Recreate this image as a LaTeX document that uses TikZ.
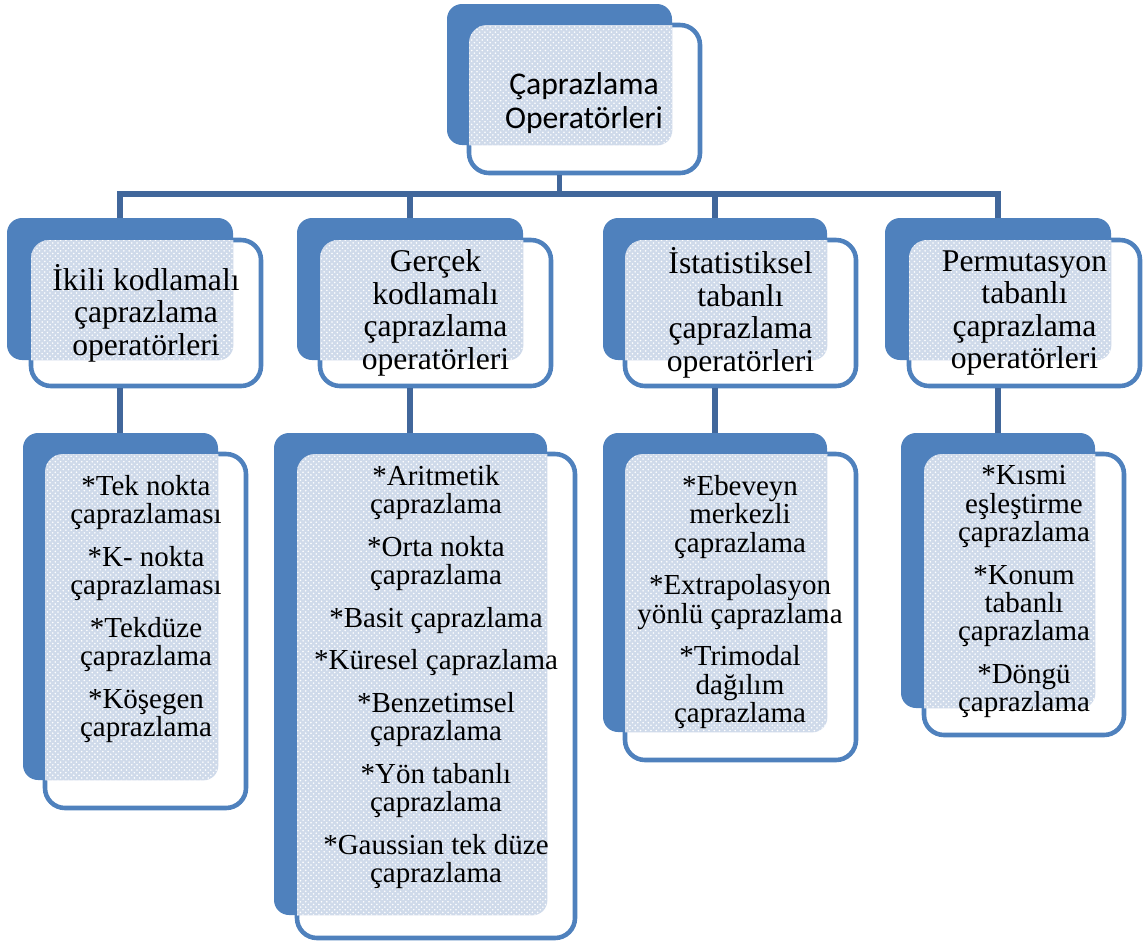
\documentclass[tikz,border=0pt]{standalone}
\usepackage{fontspec}
\setmainfont{Liberation Serif}
\newfontfamily\calibrifont{Carlito}
\usetikzlibrary{fit,patterns}
\definecolor{boxblue}{HTML}{4F81BD}
\definecolor{linkblue}{HTML}{41679B}
\definecolor{dotfill}{HTML}{CFDAEA}
\tikzstyle{backbox} = [rectangle,fill=boxblue,rounded corners=0.3cm,inner sep=0pt]
\tikzstyle{frontbox} = [rectangle,fill=white,draw=boxblue,line width=2.6pt,rounded corners=0.4cm,inner sep=0pt]
\tikzstyle{speckle} = [preaction={fill=dotfill},pattern=crosshatch dots,pattern color=white]
\tikzstyle{linkline} = [draw=linkblue,line width=3pt]
\tikzstyle{headtext} = [font=\calibrifont\fontsize{18}{19}\selectfont,align=center,inner sep=0pt]
\tikzstyle{kindtext} = [font=\fontsize{18}{18.5}\selectfont,align=center,inner sep=0pt]
\tikzstyle{listtext} = [font=\fontsize{16.5}{16.2}\selectfont,align=center,inner sep=0pt,anchor=north]

\begin{document}
\begin{tikzpicture}[x=0.02cm,y=-0.02cm]
\useasboundingbox (0,0) rectangle (1147,944);

% back boxes
\node[backbox,fit={(447,4) (672,145)}] (top-b) {};
\node[backbox,fit={(7,218) (233,360)}] (k1-b) {};
\node[backbox,fit={(297,218) (523,360)}] (k2-b) {};
\node[backbox,fit={(603,218) (827,360)}] (k3-b) {};
\node[backbox,fit={(885,218) (1111,360)}] (k4-b) {};
\node[backbox,fit={(23,433) (218,780)}] (l1-b) {};
\node[backbox,fit={(274,433) (547,915)}] (l2-b) {};
\node[backbox,fit={(603,433) (827,732)}] (l3-b) {};
\node[backbox,fit={(901,433) (1095,708)}] (l4-b) {};

% front boxes
\node[frontbox,fit={(469,25) (700,173)}] (top-f) {};
\node[frontbox,fit={(31,240) (261,386)}] (k1-f) {};
\node[frontbox,fit={(320,240) (551,386)}] (k2-f) {};
\node[frontbox,fit={(625,240) (856,386)}] (k3-f) {};
\node[frontbox,fit={(909,240) (1140,386)}] (k4-f) {};
\node[frontbox,fit={(45,454) (246,808)}] (l1-f) {};
\node[frontbox,fit={(297,454) (575,938)}] (l2-f) {};
\node[frontbox,fit={(625,454) (856,760)}] (l3-f) {};
\node[frontbox,fit={(924,454) (1124,735)}] (l4-f) {};

% dotted overlap
\foreach \n in {top,k1,k2,k3,k4,l1,l2,l3,l4}{
  \begin{scope}
    \clip[rounded corners=0.3cm] (\n-b.south west) rectangle (\n-b.north east);
    \fill[speckle,rounded corners=0.36cm] ([shift={(1.3pt,1.3pt)}]\n-f.south west) rectangle ([shift={(-1.3pt,-1.3pt)}]\n-f.north east);
  \end{scope}
}

% connectors
\coordinate (bus) at (0,194);
\foreach \i in {1,...,4}{
  \draw[linkline] (top-b |- top-f.south) |- (bus -| k\i-b) -- (k\i-b.north);
  \draw[linkline] (k\i-b |- k\i-f.south) -- (k\i-b |- l\i-b.north);
}

% texts
\node[headtext] (top-t) at (584,103) {Çaprazlama\\Operatörleri};
\node[kindtext] (k1-t) at (k1-f) {İkili kodlamalı\\çaprazlama\\operatörleri};
\node[kindtext] (k2-t) at (k2-f) {Gerçek\\kodlamalı\\çaprazlama\\operatörleri};
\node[kindtext] (k3-t) at (k3-f) {İstatistiksel\\tabanlı\\çaprazlama\\operatörleri};
\node[kindtext] (k4-t) at (k4-f) {Permutasyon\\tabanlı\\çaprazlama\\operatörleri};

\node[listtext] (l1-t) at (146,475) {*Tek nokta\\çaprazlaması\\[8pt]*K- nokta\\çaprazlaması\\[8pt]*Tekdüze\\çaprazlama\\[8pt]*Köşegen\\çaprazlama};
\node[listtext] (l2-t) at (436,465) {*Aritmetik\\çaprazlama\\[8pt]*Orta nokta\\çaprazlama\\[8pt]*Basit çaprazlama\\[8pt]*Küresel çaprazlama\\[8pt]*Benzetimsel\\çaprazlama\\[8pt]*Yön tabanlı\\çaprazlama\\[8pt]*Gaussian tek düze\\çaprazlama};
\node[listtext] (l3-t) at (740,475) {*Ebeveyn\\merkezli\\çaprazlama\\[8pt]*Extrapolasyon\\yönlü çaprazlama\\[8pt]*Trimodal\\dağılım\\çaprazlama};
\node[listtext] (l4-t) at (1024,465) {*Kısmi\\eşleştirme\\çaprazlama\\[8pt]*Konum\\tabanlı\\çaprazlama\\[8pt]*Döngü\\çaprazlama};
\end{tikzpicture}
\end{document}
